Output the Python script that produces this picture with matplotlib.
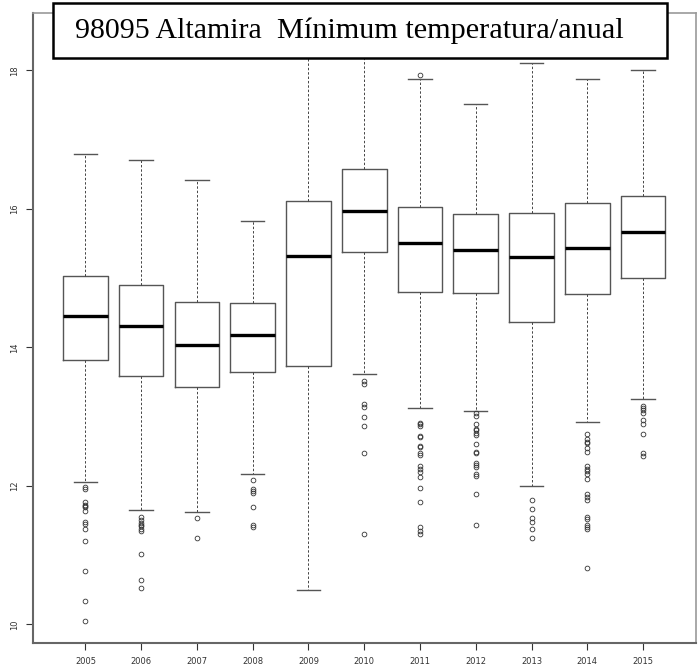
import matplotlib
matplotlib.use("Agg")
import matplotlib.pyplot as plt
from matplotlib.patches import Rectangle

# Box statistics (annual minimum temperature, Altamira)
years = [2005, 2006, 2007, 2008, 2009, 2010, 2011, 2012, 2013, 2014, 2015]
q1 = [13.82, 13.58, 13.43, 13.65, 13.73, 15.38, 14.80, 14.78, 14.36, 14.77, 15.00]
med = [14.45, 14.31, 14.04, 14.18, 15.32, 15.97, 15.51, 15.41, 15.30, 15.44, 15.66]
q3 = [15.03, 14.90, 14.65, 14.64, 16.12, 16.58, 16.03, 15.93, 15.94, 16.08, 16.19]
whislo = [12.06, 11.65, 11.62, 12.17, 10.50, 13.61, 13.12, 13.08, 12.00, 12.92, 13.25]
whishi = [16.80, 16.70, 16.42, 15.83, 18.49, 18.40, 17.87, 17.52, 18.11, 17.88, 18.00]

fliers = [
    [11.98, 11.96, 11.76, 11.73, 11.71, 11.69, 11.64, 11.48, 11.45, 11.38, 11.21, 10.77, 10.34, 10.05],
    [11.55, 11.50, 11.47, 11.44, 11.42, 11.38, 11.35, 11.02, 10.64, 10.53],
    [11.54, 11.25],
    [12.08, 11.96, 11.93, 11.89, 11.70, 11.44, 11.41],
    [],
    [13.52, 13.47, 13.18, 13.14, 12.99, 12.87, 12.47, 11.30],
    [17.94, 12.91, 12.89, 12.87, 12.72, 12.70, 12.58, 12.56, 12.48, 12.44, 12.28,
     12.24, 12.20, 12.13, 11.97, 11.77, 11.40, 11.35, 11.31],
    [13.05, 13.01, 12.90, 12.82, 12.80, 12.77, 12.74, 12.60, 12.49, 12.47, 12.33,
     12.30, 12.27, 12.17, 12.14, 11.88, 11.43],
    [11.79, 11.66, 11.53, 11.48, 11.38, 11.25],
    [12.75, 12.68, 12.64, 12.62, 12.55, 12.49, 12.29, 12.25, 12.22, 12.17, 12.10,
     11.88, 11.84, 11.79, 11.55, 11.52, 11.43, 11.40, 11.37, 10.82],
    [13.15, 13.12, 13.10, 13.05, 12.95, 12.90, 12.75, 12.48, 12.43],
]

yticks = [10, 12, 14, 16, 18]

stats = []
for i, y in enumerate(years):
    stats.append(dict(label=str(y), med=med[i], q1=q1[i], q3=q3[i],
                      whislo=whislo[i], whishi=whishi[i], fliers=fliers[i]))

fig = plt.figure(figsize=(6.99, 6.69), dpi=100)
ax = fig.add_axes([33 / 699, 26 / 669, (695.5 - 33) / 699, (643 - 13) / 669])

ax.bxp(stats, positions=range(1, len(years) + 1), widths=0.8,
       boxprops=dict(color='#555555', linewidth=1.0),
       medianprops=dict(color='black', linewidth=2.4),
       whiskerprops=dict(color='#444444', linewidth=0.7, linestyle=(0, (2.5, 2))),
       capprops=dict(color='#555555', linewidth=1.0),
       flierprops=dict(marker='o', markersize=3.4, markerfacecolor='none',
                       markeredgecolor='#333333', markeredgewidth=0.6),
       capwidths=0.42)

ax.set_xlim(0.06, 11.94)
ax.set_ylim(9.73, 18.83)
ax.set_yticks(yticks)
ax.set_yticklabels([str(t) for t in yticks], rotation=90, va='center')
ax.set_xticks(range(1, len(years) + 1))
ax.set_xticklabels([str(y) for y in years])
ax.tick_params(axis='both', labelsize=6, colors='#333333', length=5, width=0.8,
               direction='out', pad=5)

for side in ['top', 'right']:
    ax.spines[side].set_color('#999999')
    ax.spines[side].set_linewidth(1.2)
for side in ['left', 'bottom']:
    ax.spines[side].set_color('#666666')
    ax.spines[side].set_linewidth(1.5)

# title box on top of the plot
fig.patches.append(Rectangle((53 / 699, 1 - 58 / 669), (667 - 53) / 699, 55 / 669,
                             transform=fig.transFigure, facecolor='white',
                             edgecolor='black', linewidth=1.8, zorder=10))
fig.text(75 / 699, 1 - 31 / 669, "98095 Altamira", family='Liberation Serif',
         fontsize=21.5, va='center', ha='left', zorder=11)
fig.text(277 / 699, 1 - 31 / 669, "Mínimum temperatura/anual", family='Liberation Serif',
         fontsize=21.8, va='center', ha='left', zorder=11)

fig.savefig('out.png', dpi=100)
